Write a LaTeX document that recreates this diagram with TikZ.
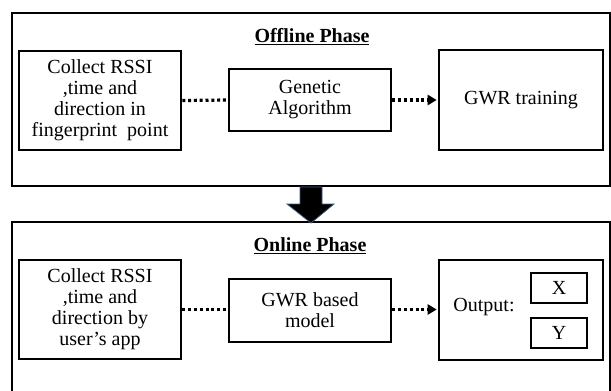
\documentclass[tikz,border=0pt]{standalone}
\usepackage{fontspec}
\setmainfont{Liberation Serif}
\usetikzlibrary{arrows.meta}
\tikzset{
  box/.style={draw, line width=2.6pt, inner sep=0pt, align=center,
    font=\fontsize{20}{21}\selectfont},
  frame/.style={draw, line width=2.8pt},
  title/.style={font=\fontsize{20}{22}\selectfont\bfseries, inner sep=0pt},
  dots/.style={line width=3.2pt, dash pattern=on 3pt off 2.8pt},
  dotarrow/.style={dots, -{Triangle[length=9pt,width=10pt]}, shorten >=1pt},
  bigarrow/.style={fill=black, draw={rgb,255:red,60;green,90;blue,130}, line width=0.8pt}
}
\begin{document}
\begin{tikzpicture}[x=1pt,y=-1pt]
\useasboundingbox (0,0) rectangle (611,391);
% phase frames
\draw[frame] (12,13) rectangle (610,186);
\draw[frame] (12,400) -- (12,222) -- (610,222) -- (610,400);
\node[title] (offt) at (312,37) {\underline{Offline Phase}};
\node[title] (onlt) at (310,246) {\underline{Online Phase}};
% arrow between phases
\draw[bigarrow] (300,187) -- (322,187) -- (322,204) -- (334,204) -- (311,223) -- (287,204) -- (300,204) -- cycle;
% offline boxes
\node[box, minimum width=162pt, minimum height=99pt] (c1) at (100,100.5) {Collect RSSI\\,time and\\direction in\\fingerprint\ \ point};
\node[box, minimum width=162pt, minimum height=62pt] (ga) at (310,100) {Genetic\\Algorithm};
\node[box, minimum width=164pt, minimum height=100pt] (gt) at (521,100) {GWR training};
% online boxes
\node[box, minimum width=162pt, minimum height=99pt] (c2) at (100,309.5) {Collect RSSI\\,time and\\direction by\\user's app};
\node[box, minimum width=162pt, minimum height=63pt] (gm) at (310,310.5) {GWR based\\model};
\node[box, minimum width=164pt, minimum height=100pt] (out) at (521,310) {};
\node[font=\fontsize{20}{21}\selectfont, inner sep=0pt] (lbl) at (484,307) {Output:};
\node[box, minimum width=56pt, minimum height=30pt] (xb) at (559,288) {X};
\node[box, minimum width=56pt, minimum height=30pt] (yb) at (559,333) {Y};
% connectors
\draw[dots] (c1.east) -- (ga.west);
\draw[dotarrow] (ga.east) -- (gt.west);
\draw[dots] (c2.east) -- (c2.east -| gm.west);
\draw[dotarrow] (c2.east -| gm.east) -- (c2.east -| out.west);
\end{tikzpicture}
\end{document}
